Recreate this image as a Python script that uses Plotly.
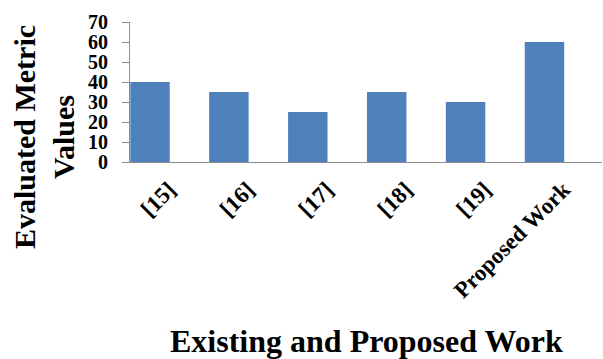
import plotly.graph_objects as go

categories = ["[15]", "[16]", "[17]", "[18]", "[19]", "Proposed Work"]
values = [40, 35, 25, 35, 30, 60]
y_ticks = [0, 10, 20, 30, 40, 50, 60, 70]

FONT = "Liberation Serif"
BLUE = "#4F81BD"
AXIS = "#8C8C8C"

fig = go.Figure(go.Bar(
    x=categories, y=values, marker=dict(color=BLUE, line=dict(width=0)),
    width=0.5,
))

fig.update_layout(
    width=603, height=359,
    margin=dict(l=130, r=1, t=22, b=197),
    paper_bgcolor="white", plot_bgcolor="white",
    showlegend=False,
    font=dict(family=FONT, color="black"),
    xaxis=dict(
        type="category", range=[-0.2535, 5.729],
        showline=True, linecolor=AXIS, linewidth=1,
        ticks="", showgrid=False, tickangle=-45,
        ticklabelshift=19, ticklabelstandoff=4,
        tickfont=dict(family=FONT, size=23, color="black", weight="bold"),
    ),
    yaxis=dict(
        range=[0, 70], tickvals=y_ticks,
        showline=True, linecolor=AXIS, linewidth=1,
        ticks="outside", ticklen=7, tickcolor=AXIS,
        showgrid=False, zeroline=False,
        ticklabelstandoff=10,
        tickfont=dict(family=FONT, size=20, color="black", weight="bold"),
    ),
    annotations=[
        dict(text="<b>Existing and Proposed Work</b>", xref="paper", yref="paper",
             x=0.5, y=-1.28, xanchor="center", yanchor="middle", showarrow=False,
             font=dict(family=FONT, size=32, color="black")),
        dict(text="<b>Evaluated Metric<br>Values</b>", xref="paper", yref="paper",
             x=-0.182, y=0.179, xanchor="center", yanchor="middle", showarrow=False,
             textangle=-90,
             font=dict(family=FONT, size=30, color="black")),
    ],
)

fig.write_html("out.html")
